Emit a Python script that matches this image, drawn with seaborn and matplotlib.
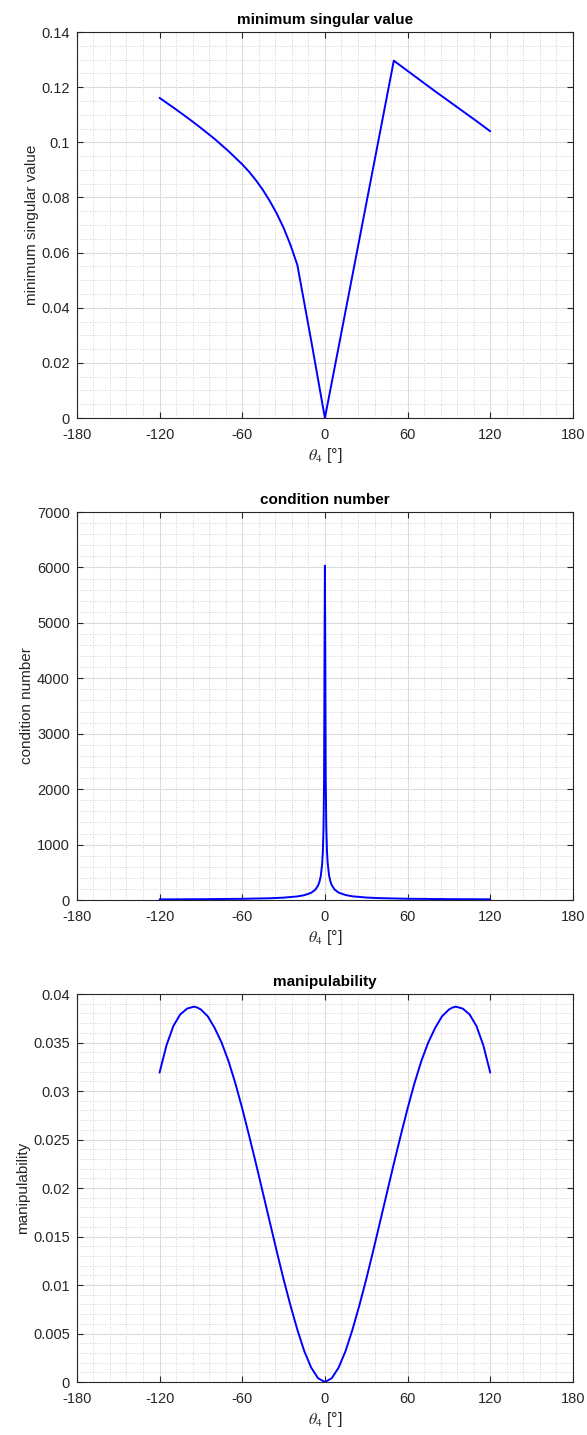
import numpy as np
import pandas as pd
import matplotlib
matplotlib.use('Agg')
import matplotlib.pyplot as plt
from matplotlib.ticker import MultipleLocator, FuncFormatter
import seaborn as sns

# minimum singular value vs theta4
theta_sv = [-120, -110, -100, -90, -80, -70, -60, -55, -50, -45, -40, -35, -30, -25, -20,
            -10, 0, 10, 20, 30, 40, 50, 60, 70, 80, 90, 100, 110, 120]
min_sv = [0.1161, 0.1126, 0.1090, 0.1052, 0.1012, 0.0968, 0.0920, 0.0893, 0.0862, 0.0827, 0.0787,
          0.0742, 0.0690, 0.0628, 0.0555,
          0.0282, 0.0, 0.0259, 0.0518, 0.0777, 0.1036, 0.1296, 0.1259, 0.1222, 0.1185, 0.1149, 0.1113,
          0.1077, 0.1040]

# condition number vs theta4
theta_cn = [-120, -90, -60, -40, -30, -20, -15, -10, -7, -5, -4, -3, -2, -1.5, -1, -0.6, -0.3, 0,
            0.3, 0.6, 1, 1.5, 2, 3, 4, 5, 7, 10, 15, 20, 30, 40, 60, 90, 120]
cond_num = [12, 15, 22, 32, 43, 65, 87, 130, 185, 260, 325, 430, 650, 870, 1300, 2150, 4300, 6030,
            4400, 2200, 1330, 890, 670, 445, 335, 268, 190, 134, 90, 67, 45, 34, 23, 16, 13]

# manipulability vs theta4
theta_m = [-120, -115, -110, -105, -100, -97.5, -95, -92.5, -90, -85, -80, -75, -70, -65, -60, -55, -50,
           -45, -40, -35, -30, -25, -20, -15, -10, -5, 0,
           5, 10, 15, 20, 25, 30, 35, 40, 45, 50, 55, 60, 65, 70, 75, 80, 85, 90, 92.5, 95, 97.5, 100,
           105, 110, 115, 120]
manip = [0.0319, 0.0347, 0.0367, 0.0379, 0.0385, 0.0386, 0.0387, 0.0386, 0.0384, 0.0377, 0.0365, 0.0350,
         0.0331, 0.0308, 0.0282, 0.0254, 0.0225, 0.0195, 0.0165, 0.0135, 0.0106, 0.0079, 0.0054, 0.0032,
         0.0015, 0.0004, 0.0,
         0.0004, 0.0015, 0.0032, 0.0054, 0.0079, 0.0106, 0.0135, 0.0165, 0.0195, 0.0225, 0.0254, 0.0282,
         0.0308, 0.0331, 0.0350, 0.0365, 0.0377, 0.0384, 0.0386, 0.0387, 0.0386, 0.0385, 0.0379, 0.0367,
         0.0347, 0.0319]

x_ticks = [-180, -120, -60, 0, 60, 120, 180]

sns.set_theme(style='ticks')
plt.rcParams['font.family'] = ['Liberation Sans', 'DejaVu Sans']
plt.rcParams['mathtext.fontset'] = 'stix'
plt.rcParams['axes.unicode_minus'] = False

fig = plt.figure(figsize=(5.87, 14.35), dpi=100)
left, width = 0.131, 0.845
panels = [
    (0.7087, 0.269, theta_sv, min_sv, 'minimum singular value', (0, 0.14), 0.02, 0.005),
    (0.3728, 0.2704, theta_cn, cond_num, 'condition number', (0, 7000), 1000, 200),
    (0.0369, 0.2704, theta_m, manip, 'manipulability', (0, 0.04), 0.005, 0.001),
]

for bottom, height, xs, ys, name, ylim, ymaj, ymin in panels:
    ax = fig.add_axes([left, bottom, width, height])
    df = pd.DataFrame({'theta4': xs, 'value': ys})
    sns.lineplot(data=df, x='theta4', y='value', ax=ax, color='#0000ff', lw=1.4,
                 estimator=None, sort=False)
    ax.set_xlim(-180, 180)
    ax.set_ylim(*ylim)
    ax.set_xticks(x_ticks)
    ax.xaxis.set_minor_locator(MultipleLocator(12))
    ax.yaxis.set_major_locator(MultipleLocator(ymaj))
    ax.yaxis.set_minor_locator(MultipleLocator(ymin))
    ax.yaxis.set_major_formatter(FuncFormatter(lambda v, p: '%g' % round(v, 6)))
    ax.grid(which='major', color='#dcdcdc', lw=0.8, ls='-')
    ax.grid(which='minor', color='#c4c4c4', lw=0.6, ls=(0, (1, 2)))
    ax.set_axisbelow(True)
    ax.tick_params(which='major', direction='in', length=4, width=0.8, top=True, right=True,
                   labelsize=10.5, colors='#262626')
    ax.tick_params(axis='x', which='major', pad=7)
    ax.tick_params(axis='y', which='major', pad=5)
    ax.tick_params(which='minor', length=0, top=True, right=True)
    for sp in ax.spines.values():
        sp.set_visible(True)
        sp.set_color('#262626')
        sp.set_linewidth(0.8)
    ax.set_title(name, fontsize=11, fontweight='bold', color='black', pad=6)
    ax.set_ylabel(name, fontsize=11, color='#262626', labelpad=2)
    ax.set_xlabel(r'$\theta_4$ [°]', fontsize=11.5, color='#262626', labelpad=3)

fig.savefig('out.png', dpi=100)
